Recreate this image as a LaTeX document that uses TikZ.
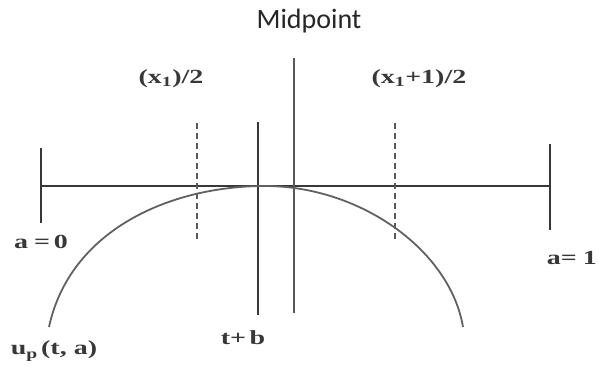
\documentclass[tikz,border=0pt]{standalone}
\usepackage{fontspec}
\setmainfont{Liberation Serif}
\newfontfamily\calib{Carlito}
\newfontfamily\widefont[FakeStretch=1.4]{Liberation Serif}
\begin{document}
\begin{tikzpicture}[x=1pt,y=-1pt,
  ln/.style={draw=black!78,line width=2pt},
  dsh/.style={draw=black!65,line width=2pt,dash pattern=on 6pt off 4pt},
  crv/.style={draw=black!62,line width=1.8pt},
  lab/.style={font=\widefont\fontsize{20}{20}\selectfont\bfseries,text=black!78,inner sep=0pt}]
\useasboundingbox (0,0) rectangle (599,371);
% coordinates
\coordinate (L) at (41,186);
\coordinate (R) at (550,186);
\coordinate (Lt) at (41,148); \coordinate (Lb) at (41,223);
\coordinate (Rt) at (550,144); \coordinate (Rb) at (550,230);
\coordinate (D1t) at (197,123); \coordinate (D1b) at (197,242);
\coordinate (D2t) at (395,123); \coordinate (D2b) at (395,242);
\coordinate (Tt) at (258,122); \coordinate (Tb) at (258,315);
\coordinate (Mt) at (294,58); \coordinate (Mb) at (294,313);
\coordinate (C0) at (49,327); \coordinate (Ctop) at (265,186); \coordinate (C1) at (463,327);
% lines
\draw[ln] (L) -- (R);
\draw[ln] (Lt) -- (Lb);
\draw[ln] (Rt) -- (Rb);
\draw[ln] (Tt) -- (Tb);
\draw[ln,draw=black!65] (Mt) -- (Mb);
\draw[dsh] (D1t) -- (D1b);
\draw[dsh] (D2t) -- (D2b);
\draw[crv] (C0) .. controls (70,230) and (170,186) .. (Ctop)
  .. controls (360,186) and (450,250) .. (C1);
% labels
\node[font=\calib\fontsize{28}{28}\selectfont,text=black!85,inner sep=0pt] (mid) at (309,21) {Midpoint};
\node[lab] (x1) at (171,79) {(x\textsubscript{1})/2};
\node[lab] (x2) at (419,79) {(x\textsubscript{1}+1)/2};
\node[lab] (a0) at (41,242) {a\hspace{0.3em}=\hspace{0.2em}0};
\node[lab,anchor=east] (a1) at (597,258) {a=\hspace{0.3em}1};
\node[lab] (tb) at (243,338) {t+\,b};
\node[lab] (up) at (54,351) {u\textsubscript{p}\,(t, a)};
\end{tikzpicture}
\end{document}
